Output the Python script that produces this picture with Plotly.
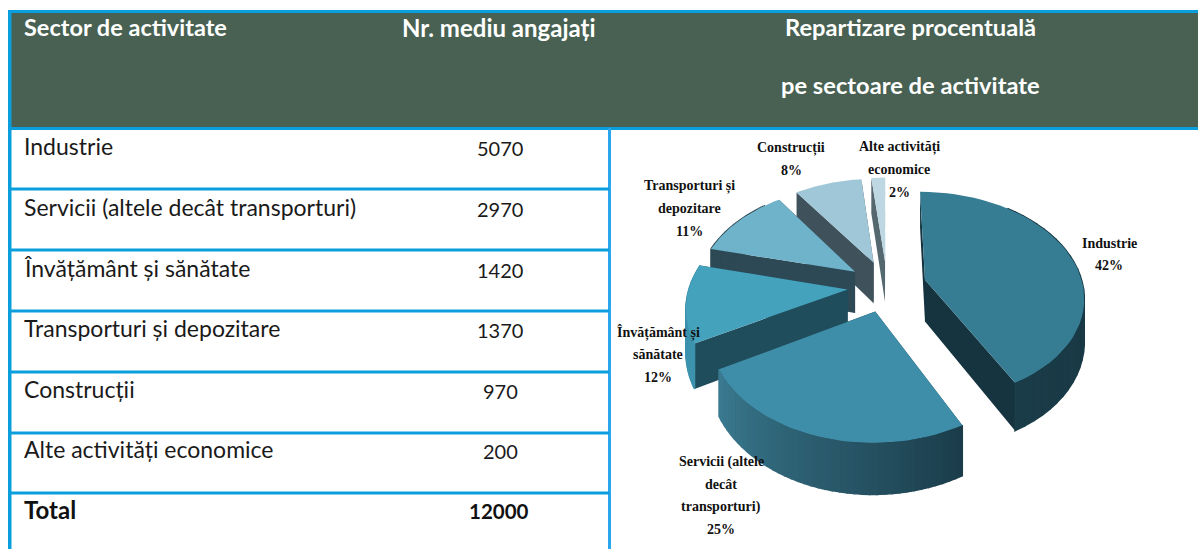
import math
import plotly.graph_objects as go

sectors = ["Industrie", "Servicii (altele decât transporturi)", "Învățământ și sănătate",
           "Transporturi și depozitare", "Construcții", "Alte activități economice"]
employees = [5070, 2970, 1420, 1370, 970, 200]
total_label = "Total"
total_value = 12000
headers = ["Sector de activitate", "Nr. mediu angajați", "Repartizare procentuală", "pe sectoare de activitate"]
pie_labels = [["Industrie", "42%"], ["Servicii (altele", "decât", "transporturi)", "25%"],
              ["Învățământ și", "sănătate", "12%"], ["Transporturi și", "depozitare", "11%"],
              ["Construcții", "8%"], ["Alte activități", "economice", "2%"]]
top_colors = ["#367c93", "#3f8ea9", "#45a2bd", "#6fb3cb", "#a0c7d8", "#bdd7e3"]
edge_colors = ["#16343f", "#1d3f4d", "#204d5c", "#2d4955", "#3f515b", "#55686f"]
rim_start = ["#14323d", "#1b3d4b", "#3d93ae", "#2d4955", "#3f515b", "#55686f"]
rim_end = ["#1a3c48", "#3a7a90", "#3d93ae", "#2d4955", "#3f515b", "#55686f"]

BORDER = "#0a9fdc"
VLINE = "#2aa5ee"
HEADER = "#486152"
CX, CY, RX, RY, PERSP, DEPTH, PULL = 887, 286, 158, 103, 0.15, 42, 0.25


def project(wx, wy, z=0.0):
    s = 1 / (1 + PERSP * wy)
    return CX + wx * RX * s, CY - wy * RY * s + z * DEPTH * s


def mix(a, b, t):
    ca = [int(a[i:i + 2], 16) for i in (1, 3, 5)]
    cb = [int(b[i:i + 2], 16) for i in (1, 3, 5)]
    return "rgb(%d,%d,%d)" % tuple(round(p + (q - p) * t) for p, q in zip(ca, cb))


def poly(fig, pts, color, lw=0.0):
    fig.add_trace(go.Scatter(x=[p[0] for p in pts] + [pts[0][0]], y=[p[1] for p in pts] + [pts[0][1]],
                             mode="lines", fill="toself", fillcolor=color, line=dict(width=lw, color=color),
                             hoverinfo="skip", showlegend=False))


fig = go.Figure()
total = sum(employees)
angles = [0.0]
for v in employees:
    angles.append(angles[-1] + v / total * 2 * math.pi)


def draw_slice(i):
    a0, a1 = angles[i], angles[i + 1]
    mid = (a0 + a1) / 2
    ox, oy = PULL * math.sin(mid), PULL * math.cos(mid)
    n = 40
    aa = [a0 + (a1 - a0) * j / n for j in range(n + 1)]
    rim = [(ox + math.sin(a), oy + math.cos(a)) for a in aa]
    for end in (rim[0], rim[-1]):
        poly(fig, [project(ox, oy), project(*end), project(*end, 1), project(ox, oy, 1)], edge_colors[i])
    for j in range(n):
        p, q = rim[j], rim[j + 1]
        if q[1] < 0.75 + oy:
            poly(fig, [project(*p), project(*q), project(*q, 1), project(*p, 1)],
                 mix(rim_start[i], rim_end[i], j / (n - 1)), 1.5)
    poly(fig, [project(ox, oy)] + [project(*p) for p in rim], top_colors[i])


for i in [5, 4, 3, 2, 0, 1]:
    draw_slice(i)

shapes = [
    dict(type="rect", x0=8, x1=1198, y0=11, y1=128, fillcolor=HEADER, line_width=0, layer="below"),
    dict(type="rect", x0=8, x1=1198, y0=10, y1=13, fillcolor=BORDER, line_width=0),
    dict(type="rect", x0=8, x1=1198, y0=127, y1=130, fillcolor=BORDER, line_width=0),
    dict(type="rect", x0=8, x1=11.5, y0=10, y1=549, fillcolor=BORDER, line_width=0),
    dict(type="rect", x0=608, x1=611, y0=128, y1=549, fillcolor=VLINE, line_width=0),
]
for y in [189, 250, 311, 372, 433, 493]:
    shapes.append(dict(type="rect", x0=8, x1=609, y0=y - 1.5, y1=y + 1.5, fillcolor=BORDER, line_width=0))

ann = []


def text(x, y, s, size, color, family, anchor="left", bold=False):
    ann.append(dict(x=x, y=y, text="<b>%s</b>" % s if bold else s, showarrow=False, xanchor=anchor, yanchor="middle",
                    font=dict(size=size, color=color, family=family)))


SANS = "Lato"
text(22, 27, headers[0], 23.5, "#ffffff", SANS, bold=True)
text(499, 27, headers[1], 24, "#ffffff", SANS, "center", bold=True)
text(910, 27, headers[2], 23.7, "#ffffff", SANS, "center", bold=True)
text(910, 85, headers[3], 23.7, "#ffffff", SANS, "center", bold=True)
row_y = [146, 207, 268, 328, 389, 449]
for y, name, val in zip(row_y, sectors, employees):
    text(22, y, name, 23, "#1a1a1a", SANS)
    text(500, y + 2, str(val), 20, "#1a1a1a", SANS, "center")
text(22, 509, total_label, 24, "#111111", SANS, bold=True)
text(499, 511, str(total_value), 20.5, "#111111", SANS, "center", bold=True)

label_pos = [(1109, 243), (721, 462), (658, 332), (689, 186), (791, 148), (899, 147)]
for (x, y), lines in zip(label_pos, pie_labels):
    for k, line in enumerate(lines):
        text(x, y + k * 22.5, line, 14, "#111111", "Liberation Serif", "center", bold=True)

fig.update_layout(width=1198, height=549, margin=dict(l=0, r=0, t=0, b=0), paper_bgcolor="#ffffff",
                  plot_bgcolor="#ffffff", shapes=[dict(s, xref="x", yref="y") for s in shapes],
                  annotations=[dict(a, xref="x", yref="y") for a in ann],
                  xaxis=dict(range=[0, 1198], visible=False, fixedrange=True),
                  yaxis=dict(range=[549, 0], visible=False, fixedrange=True), showlegend=False)
fig.write_html("out.html", config=dict(displayModeBar=False),
               post_script="document.body.style.margin='0';document.body.style.overflow='hidden';")
